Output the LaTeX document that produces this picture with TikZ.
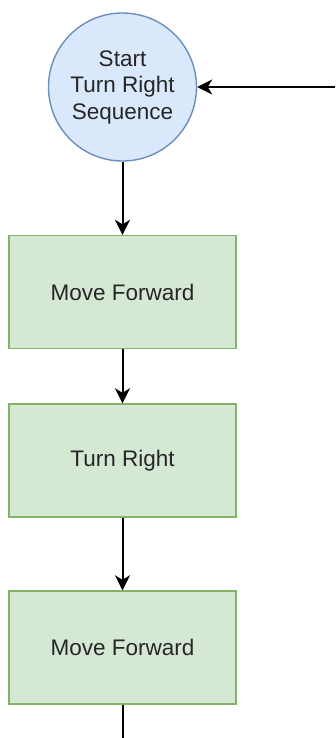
\documentclass[tikz,border=0pt]{standalone}
\usepackage{fontspec}
\setmainfont{Liberation Sans}
\usetikzlibrary{arrows.meta}

\definecolor{startfill}{HTML}{DAE8FC}
\definecolor{startline}{HTML}{6C8EBF}
\definecolor{stepfill}{HTML}{D5E8D4}
\definecolor{stepline}{HTML}{82B366}

\begin{document}
\begin{tikzpicture}[x=1pt,y=-1pt]
\tikzstyle{every node}+=[inner sep=0pt, font=\fontsize{22.5}{26.5}\selectfont, text=black!85]
\tikzstyle{startnode}=[circle, draw=startline, fill=startfill, line width=1.4pt, minimum size=148pt, align=center]
\tikzstyle{stepnode}=[rectangle, draw=stepline, fill=stepfill, line width=1.4pt, minimum width=227pt, minimum height=113pt]
\tikzstyle{flow}=[draw=black, line width=2pt, -{Stealth[length=15pt, width=15pt, inset=4.5pt]}]
\tikzstyle{tailline}=[draw=black, line width=2pt]
\useasboundingbox (0,0) rectangle (335,738);
% start of the sequence
\node[startnode] (start) at (122.5,87) {Start\\Turn Right\\Sequence};
% the three steps
\node[stepnode] (fwdA) at (122.5,292) {Move Forward};
\node[stepnode] (turn) at (122.5,460.5) {Turn Right};
\node[stepnode] (fwdB) at (122.5,647.5) {Move Forward};
% loose ends of the loop
\coordinate (back) at (335,87);
\coordinate (down) at (122.5,738);
\draw[flow] (back) -- (start);
\draw[flow] (start) -- (fwdA);
\draw[flow] (fwdA) -- (turn);
\draw[flow] (turn) -- (fwdB);
\draw[tailline] (fwdB) -- (down);
\end{tikzpicture}
\end{document}
